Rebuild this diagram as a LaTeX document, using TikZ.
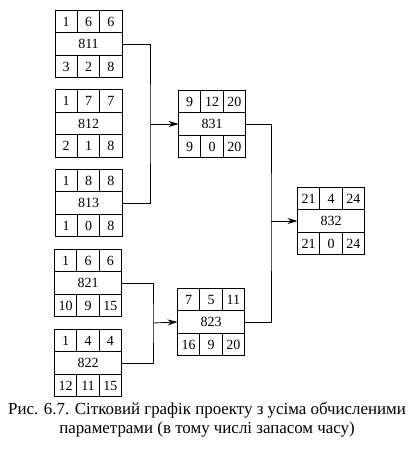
\documentclass[tikz,border=0pt]{standalone}
\usepackage{fontspec}
\setmainfont{Liberation Serif}
\usetikzlibrary{arrows.meta}
\tikzset{
  midcell/.style={draw, line width=0.8pt, minimum width=67pt, minimum height=22.5pt, inner sep=0pt, outer sep=0pt, font=\fontsize{14}{15}\selectfont},
  sidecell/.style={draw, line width=0.8pt, minimum width=22.33pt, minimum height=22.5pt, inner sep=0pt, outer sep=0pt, font=\fontsize{14}{15}\selectfont},
  link/.style={line width=0.8pt},
  arrowlink/.style={line width=0.8pt, -{Stealth[length=10pt,width=6pt]}},
  caption/.style={font=\fontsize{16.9}{19}\selectfont, align=center, inner sep=0pt}
}
\newcommand{\ebox}[9]{%
  \node[midcell] (#1) at #2 {#6};
  \node[sidecell, anchor=south west] (#1-a) at (#1.north west) {#3};
  \node[sidecell, anchor=south] (#1-b) at (#1.north) {#4};
  \node[sidecell, anchor=south east] (#1-c) at (#1.north east) {#5};
  \node[sidecell, anchor=north west] (#1-d) at (#1.south west) {#7};
  \node[sidecell, anchor=north] (#1-e) at (#1.south) {#8};
  \node[sidecell, anchor=north east] (#1-f) at (#1.south east) {#9};
}
\begin{document}
\begin{tikzpicture}[x=1pt,y=-1pt]
\useasboundingbox (0,0) rectangle (415,450);
\ebox{n811}{(88.5,44)}{1}{6}{6}{811}{3}{2}{8}
\ebox{n812}{(88.5,123.5)}{1}{7}{7}{812}{2}{1}{8}
\ebox{n813}{(88.5,203)}{1}{8}{8}{813}{1}{0}{8}
\ebox{n821}{(88,283)}{1}{6}{6}{821}{10}{9}{15}
\ebox{n822}{(88,363)}{1}{4}{4}{822}{12}{11}{15}
\ebox{n831}{(212,124)}{9}{12}{20}{831}{9}{0}{20}
\ebox{n823}{(211,322)}{7}{5}{11}{823}{16}{9}{20}
\ebox{n832}{(331,221)}{21}{4}{24}{832}{21}{0}{24}
\coordinate (j1) at (150,124);
\coordinate (j2) at (153,323);
\coordinate (j3) at (271,221);
\draw[link] (n811.east) -| (j1) |- (n813.east);
\draw[arrowlink] (j1) -- (n831.west);
\draw[link] (n821.east) -| (j2) |- (n822.east);
\draw[arrowlink] (j2) -- (n823.west);
\draw[link] (n831.east) -| (j3) |- (n823.east);
\draw[arrowlink] (j3) -- (n832.west);
\node[caption] (cap) at (207,420) {Рис. 6.7. Сітковий графік проекту з усіма обчисленими\\параметрами (в тому числі запасом часу)};
\end{tikzpicture}
\end{document}
